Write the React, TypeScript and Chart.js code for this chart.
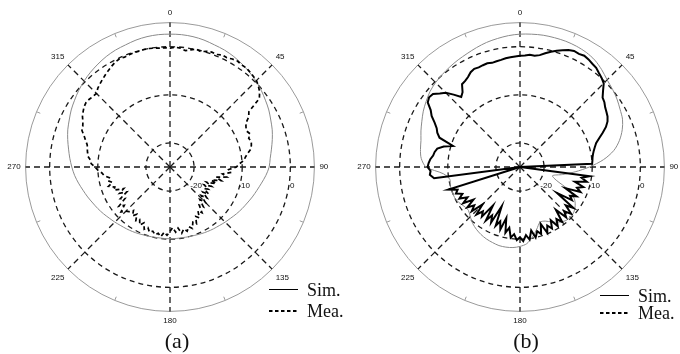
import React, { useEffect, useRef } from 'react';
import { Chart, registerables } from 'chart.js';

Chart.register(...registerables);

// angular categories (degrees, clockwise from top), 2.5 deg step
const angles: number[] = Array.from({ length: 144 }, (_, i) => i * 2.5);
const angleTickLabels = ['0', '45', '90', '135', '180', '225', '270', '315'];
const ringValues = [-20, -10, 0, 5];
const ringLabels = [-20, -10, 0];
const seriesNames = ['Sim.', 'Mea.'];

// (a) simulated, dB, 5 deg step
const simA = [
  2.6, 2.6, 2.5, 2.3, 2.0, 1.8, 1.5, 1.1, 0.7, 0.25, -0.25, -0.8,
  -1.3, -1.9, -2.4, -3.0, -3.6, -4.1, -4.4, -5.0, -5.7, -6.3, -6.8, -7.3,
  -7.7, -8.1, -8.5, -8.8, -9.1, -9.3, -9.5, -9.7, -9.9, -10.0, -10.1, -10.1,
  -10.1, -10.1, -10.1, -10.0, -9.9, -9.7, -9.5, -9.3, -9.1, -8.8, -8.5, -8.1,
  -7.7, -7.3, -6.8, -6.3, -5.7, -5.1, -4.6, -4.1, -3.6, -3.0, -2.4, -1.9,
  -1.3, -0.8, -0.25, 0.25, 0.7, 1.1, 1.5, 1.8, 2.0, 2.3, 2.5, 2.6,
];

// (a) measured, dB, 2.5 deg step
const meaA = [
  -0.3, -0.1, -0.2, -0.6, -0.3, 0.1, -0.2, 0.2, 0.4, 0.3, 0.7, 0.6,
  0.9, 1.1, 0.9, 1.0, 0.8, 0.6, 0.4, -0.1, -0.7, -1.6, -5.0, -5.6,
  -6.8, -7.2, -7.4, -7.0, -7.6, -7.3, -7.5, -7.8, -8.6, -9.2, -9.6, -10.6,
  -11.2, -12.8, -12.2, -14.0, -13.0, -15.2, -14.0, -16.0, -14.8, -16.8, -15.5, -17.0,
  -15.8, -16.6, -15.2, -16.4, -15.0, -16.2, -14.6, -15.8, -14.2, -15.0, -13.4, -14.2,
  -12.8, -13.4, -12.0, -12.6, -11.4, -12.0, -11.2, -11.8, -11.0, -12.2, -11.4, -12.4,
  -11.6, -10.8, -11.4, -10.4, -11.0, -10.6, -11.2, -10.8, -11.6, -11.0, -12.2, -11.4,
  -12.4, -11.8, -13.0, -12.2, -13.2, -12.4, -12.0, -11.2, -12.6, -11.6, -13.6, -12.8,
  -14.6, -13.2, -14.4, -12.4, -12.8, -11.6, -12.6, -11.8, -12.2, -11.2, -10.8, -10.0,
  -9.4, -8.6, -8.4, -7.8, -7.6, -7.4, -7.2, -6.6, -6.0, -5.2, -5.0, -4.6,
  -4.0, -3.6, -3.2, -3.0, -3.1, -3.3, -3.4, -2.8, -2.4, -2.0, -1.6, -1.2,
  -0.8, -0.4, -0.2, -0.3, -0.2, -0.1, -0.1, 0.0, 0.0, -0.1, -0.2, -0.2,
];

// (b) simulated, dB, 5 deg step
const simB = [
  2.6, 2.7, 2.8, 2.8, 2.8, 2.7, 2.5, 2.1, 1.4, 0.6, 0.1, -0.4,
  -1.0, -1.5, -2.4, -3.6, -5.2, -7.6, -10.6, -13.5, -16.0, -18.0, -17.0, -14.0,
  -12.0, -11.0, -10.4, -10.2, -10.4, -11.0, -11.8, -12.6, -12.8, -11.6, -10.2, -9.0,
  -8.5, -8.2, -8.1, -8.1, -8.3, -8.5, -8.8, -9.2, -9.7, -10.4, -11.0, -10.8,
  -10.3, -10.0, -10.0, -10.0, -10.2, -9.0, -5.5, -4.4, -4.0, -3.7, -3.1, -2.5,
  -1.8, -1.2, -0.6, -0.2, 0.1, 0.4, 0.7, 1.0, 1.4, 1.8, 2.1, 2.4,
];

// (b) measured, dB, 2.5 deg step
const meaB = [
  -1.9, -1.8, -1.6, -1.7, -1.4, -0.8, -0.2, 0.3, 0.8, 1.3, 1.6, 1.5,
  1.7, 1.5, 1.2, 1.0, 0.5, 0.1, -0.4, -1.6, -2.6, -2.9, -3.4, -3.7,
  -4.0, -4.5, -5.3, -6.4, -7.5, -8.4, -8.9, -9.3, -9.6, -9.8, -9.9, -10.0,
  -25, -25, -25, -10.4, -12.0, -10.8, -13.2, -11.2, -12.4, -11.4, -14.6, -11.8,
  -13.0, -12.2, -15.6, -11.0, -12.6, -10.6, -12.0, -10.8, -13.4, -10.6, -11.8, -10.4,
  -12.2, -10.6, -11.6, -10.2, -12.4, -10.4, -11.2, -10.0, -11.6, -9.8, -10.8, -9.6,
  -10.4, -9.8, -11.0, -10.2, -12.2, -11.0, -14.0, -11.4, -13.0, -11.8, -16.0, -12.0,
  -13.4, -11.8, -15.2, -12.0, -13.0, -11.6, -14.0, -11.4, -12.6, -11.2, -13.2, -11.0,
  -12.4, -10.8, -11.8, -10.6, -11.2, -9.4, -25, -25, -25, -7.0, -6.2, -6.4,
  -5.8, -6.0, -6.3, -6.8, -7.0, -7.4, -8.6, -10.4, -7.2, -6.4, -5.9, -5.0,
  -3.8, -3.0, -1.6, -1.2, -1.4, -2.4, -3.2, -4.6, -6.0, -5.4, -4.0, -3.8,
  -3.4, -2.8, -2.5, -2.6, -2.5, -2.4, -2.6, -2.5, -2.4, -2.2, -2.1, -2.0,
];

const GRID_DARK = '#1a1a1a';
const GRID_GRAY = '#9a9a9a';
const SIM_GRAY = '#8a8a8a';

type PanelProps = {
  left: number;
  sim: number[];
  mea: number[];
  meaDash: number[];
  meaWidth: number;
  title: string;
  titleX: number;
  legendX: number;
  legendY: [number, number];
};

function makeOverlay(p: PanelProps) {
  return {
    id: 'overlay',
    afterDraw(chart: any) {
      const ctx = chart.ctx;
      const r = chart.scales.r;
      ctx.save();
      // ring value labels, placed just right/below of the 90 deg axis
      ctx.font = '8px "Liberation Sans", Arial, sans-serif';
      ctx.fillStyle = '#111';
      ctx.textAlign = 'center';
      ctx.textBaseline = 'middle';
      ringLabels.forEach((v) => {
        const d = r.getDistanceFromCenterForValue(v);
        ctx.fillText(String(v), r.xCenter + d + 2, r.yCenter + 19);
      });
      // legend
      const [y1, y2] = p.legendY;
      ctx.strokeStyle = '#000';
      ctx.lineWidth = 1;
      ctx.setLineDash([]);
      ctx.beginPath();
      ctx.moveTo(p.legendX, y1 + 0.5);
      ctx.lineTo(p.legendX + 29, y1 + 0.5);
      ctx.stroke();
      ctx.lineWidth = 2;
      ctx.setLineDash([3.5, 2.5]);
      ctx.beginPath();
      ctx.moveTo(p.legendX, y2);
      ctx.lineTo(p.legendX + 29, y2);
      ctx.stroke();
      ctx.setLineDash([]);
      ctx.font = '18px "Liberation Serif", "Times New Roman", serif';
      ctx.fillStyle = '#111';
      ctx.textAlign = 'left';
      ctx.fillText(seriesNames[0], p.legendX + 38, y1 + 2);
      ctx.fillText(seriesNames[1], p.legendX + 38, y2 + 1);
      // panel caption
      ctx.font = '22px "Liberation Serif", "Times New Roman", serif';
      ctx.textAlign = 'center';
      ctx.fillText(p.title, p.titleX, 342);
      ctx.restore();
    },
  };
}

function PolarPanel(p: PanelProps) {
  const ref = useRef<HTMLCanvasElement | null>(null);
  useEffect(() => {
    if (!ref.current) return;
    const simFull = angles.map((_, i) => (i % 2 === 0 ? p.sim[i / 2] : null));
    const chart = new Chart(ref.current, {
      type: 'radar',
      data: {
        labels: angles.map((a) => String(a)),
        datasets: [
          {
            label: seriesNames[1],
            data: p.mea,
            borderColor: '#000',
            borderWidth: p.meaWidth,
            borderDash: p.meaDash,
            pointRadius: 0,
            fill: false,
            tension: 0,
          },
          {
            label: seriesNames[0],
            data: simFull as any,
            borderColor: SIM_GRAY,
            borderWidth: 1,
            pointRadius: 0,
            fill: false,
            spanGaps: true,
            tension: 0.3,
          },
        ],
      },
      options: {
        responsive: false,
        animation: false,
        devicePixelRatio: 1,
        layout: { padding: { left: 0, right: 24, top: 8, bottom: 27 } },
        plugins: { legend: { display: false }, tooltip: { enabled: false }, title: { display: false } },
        scales: {
          r: {
            min: -25,
            max: 5,
            startAngle: 0,
            afterBuildTicks: (s: any) => {
              s.ticks = ringValues.map((v) => ({ value: v }));
            },
            ticks: { display: false },
            grid: {
              circular: true,
              color: (c: any) => (c.tick && c.tick.value === 5 ? GRID_GRAY : GRID_DARK),
              lineWidth: (c: any) => (c.tick && c.tick.value === 5 ? 1 : 1.3),
            },
            border: {
              dash: (c: any) => (c.tick && c.tick.value === 5 ? [] : [5, 4]),
            },
            angleLines: {
              display: true,
              color: (c: any) => (c.index % 18 === 0 ? GRID_DARK : GRID_GRAY),
              lineWidth: (c: any) => (c.index % 18 === 0 ? 1.3 : c.index % 9 === 0 ? 1 : 0),
              borderDash: (c: any) => {
                if (c.index % 18 === 0) return [6, 4];
                const R = c.chart.scales.r.drawingArea;
                return [0, R - 4, 4, R + 10];
              },
            },
            pointLabels: {
              display: true,
              padding: 5,
              color: '#111',
              font: { size: 8, family: '"Liberation Sans", Arial, sans-serif' },
              callback: (_l: string, i: number) => (i % 18 === 0 ? angleTickLabels[i / 18] : ''),
            },
          },
        },
      },
      plugins: [makeOverlay(p)],
    });
    return () => chart.destroy();
  }, []);
  return (
    <canvas
      ref={ref}
      width={360}
      height={354}
      style={{ position: 'absolute', left: p.left, top: 0, width: 360, height: 354 }}
    />
  );
}

export default function App() {
  return (
    <div
      style={{
        position: 'absolute',
        left: 0,
        top: 0,
        width: 680,
        height: 354,
        overflow: 'hidden',
        background: '#fff',
      }}
    >
      <PolarPanel
        left={0}
        sim={simA}
        mea={meaA}
        meaDash={[4, 3]}
        meaWidth={1.7}
        title="(a)"
        titleX={177}
        legendX={269}
        legendY={[289, 311]}
      />
      <PolarPanel
        left={350}
        sim={simB}
        mea={meaB}
        meaDash={[]}
        meaWidth={2}
        title="(b)"
        titleX={176}
        legendX={250}
        legendY={[295, 313]}
      />
    </div>
  );
}
